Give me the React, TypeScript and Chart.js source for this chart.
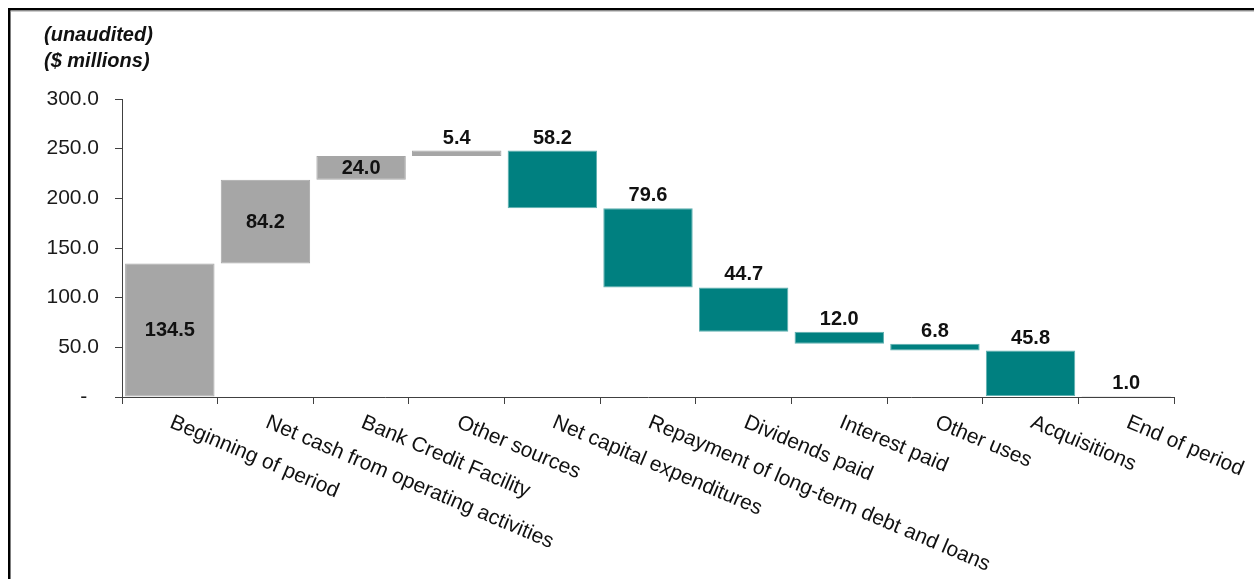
import { useEffect, useRef } from "react";
import { Chart, registerables } from "chart.js";

Chart.register(...registerables);

const categories = [
  "Beginning of period",
  "Net cash from operating activities",
  "Bank Credit Facility",
  "Other sources",
  "Net capital expenditures",
  "Repayment of long-term debt and loans",
  "Dividends paid",
  "Interest paid",
  "Other uses",
  "Acquisitions",
  "End of period",
];
const amounts = [134.5, 84.2, 24.0, 5.4, 58.2, 79.6, 44.7, 12.0, 6.8, 45.8, 1.0];
const steps = ["total", "up", "up", "up", "down", "down", "down", "down", "down", "down", "total"];
const yTickValues = [0, 50, 100, 150, 200, 250, 300];
const titleLines = ["(unaudited)", "($ millions)"];

const FONT = '"Liberation Sans", Arial, sans-serif';
const GRAY = "#A6A6A6";
const TEAL = "#008080";
const AXIS = "#404040";

function buildRanges(): [number, number][] {
  let run = 0;
  return amounts.map((v, i) => {
    if (steps[i] === "total") {
      run = v;
      return [0, v];
    }
    if (steps[i] === "up") {
      const r: [number, number] = [run, run + v];
      run += v;
      return r;
    }
    const r: [number, number] = [run - v, run];
    run -= v;
    return r;
  });
}

const decorPlugin = {
  id: "decor",
  afterDraw(chart: any) {
    const ctx = chart.ctx as CanvasRenderingContext2D;
    const xs = chart.scales.x;
    const area = chart.chartArea;
    ctx.save();
    // frame
    ctx.fillStyle = "#000";
    ctx.fillRect(8, 8, 1254, 2.5);
    ctx.fillRect(8, 8, 2.5, 579);
    ctx.fillStyle = "#9a9a9a";
    ctx.fillRect(10.5, 10.5, 1254, 1);

    // title
    ctx.fillStyle = "#111";
    ctx.font = `italic bold 20px ${FONT}`;
    ctx.textAlign = "left";
    ctx.textBaseline = "middle";
    titleLines.forEach((t, i) => ctx.fillText(t, 44, 35 + i * 26));

    // value labels
    const meta = chart.getDatasetMeta(0);
    ctx.font = `bold 20px ${FONT}`;
    ctx.textAlign = "center";
    meta.data.forEach((el: any, i: number) => {
      const top = Math.min(el.y, el.base);
      const bottom = Math.max(el.y, el.base);
      const label = amounts[i].toFixed(1);
      const inside = steps[i] !== "down" && bottom - top > 20;
      if (inside) {
        ctx.textBaseline = "middle";
        ctx.fillText(label, el.x, (top + bottom) / 2 + 1);
      } else {
        ctx.textBaseline = "alphabetic";
        ctx.fillText(label, el.x, top - 7);
      }
    });

    // category labels (rotated clockwise)
    ctx.font = `21px ${FONT}`;
    ctx.fillStyle = "#111";
    ctx.textAlign = "left";
    ctx.textBaseline = "alphabetic";
    const ang = (23 * Math.PI) / 180;
    categories.forEach((c, i) => {
      const x = xs.getPixelForValue(i);
      ctx.save();
      ctx.translate(x - 1, area.bottom + 30);
      ctx.rotate(ang);
      ctx.fillText(c, 0, 0);
      ctx.restore();
    });
    ctx.restore();
  },
};

export default function App() {
  const ref = useRef<HTMLCanvasElement | null>(null);
  useEffect(() => {
    if (!ref.current) return;
    const ranges = buildRanges();
    const chart = new Chart(ref.current, {
      type: "bar",
      data: {
        labels: categories,
        datasets: [
          {
            data: ranges as any,
            backgroundColor: steps.map((s) => (s === "down" ? TEAL : GRAY)),
            borderColor: steps.map((s) => (s === "down" ? "#5fb0b0" : GRAY)),
            borderWidth: 1,
            borderSkipped: false,
            barPercentage: 0.935,
            categoryPercentage: 1,
          },
        ],
      },
      options: {
        animation: false,
        responsive: false,
        devicePixelRatio: 1,
        layout: { padding: { left: 0, right: 80, top: 99, bottom: 0 } },
        plugins: {
          legend: { display: false },
          tooltip: { enabled: false },
          title: { display: false },
        },
        scales: {
          x: {
            offset: true,
            grid: {
              display: true,
              offset: true,
              drawOnChartArea: false,
              drawTicks: true,
              tickLength: 7,
              color: AXIS,
            },
            border: { display: true, color: AXIS, width: 1 },
            ticks: { display: false },
            afterFit(scale: any) {
              scale.height = 182;
            },
          },
          y: {
            min: 0,
            max: 300,
            afterBuildTicks(scale: any) {
              scale.ticks = yTickValues.map((v) => ({ value: v }));
            },
            grid: {
              display: true,
              drawOnChartArea: false,
              drawTicks: true,
              tickLength: 7,
              color: AXIS,
            },
            border: { display: true, color: AXIS, width: 1 },
            ticks: {
              autoSkip: false,
              padding: 16,
              color: "#1a1a1a",
              font: { family: FONT, size: 21 },
              callback: (v: any) => (Number(v) === 0 ? "-  " : Number(v).toFixed(1)),
            },
            afterFit(scale: any) {
              scale.width = 122;
            },
          },
        },
      },
      plugins: [decorPlugin],
    });
    return () => chart.destroy();
  }, []);
  return (
    <div style={{ position: "absolute", left: 0, top: 0, width: 1254, height: 579, background: "#fff" }}>
      <canvas ref={ref} width={1254} height={579} style={{ width: 1254, height: 579, display: "block" }} />
    </div>
  );
}
